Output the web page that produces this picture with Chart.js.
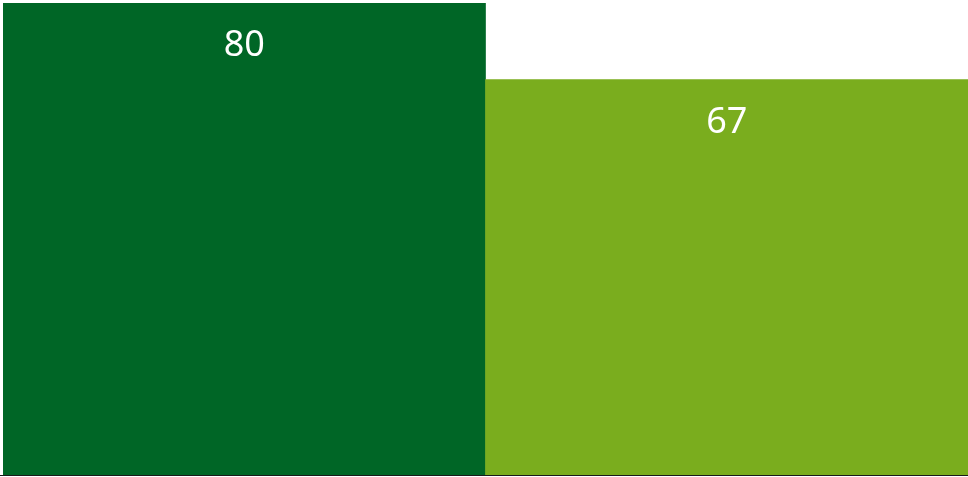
<!DOCTYPE html>
<html>
<head>
<meta charset="utf-8">
<script src="https://cdn.jsdelivr.net/npm/chart.js@4"></script>
<style>
  body { margin: 0; background: #fff; }
  canvas { display: block; }
</style>
</head>
<body>
<canvas id="grafico" width="968" height="477"></canvas>
<script>
// datos
const categorias = ["A", "B"];
const valores = [80, 67];
const colores = ["#006626", "#7aad1e"];

// etiquetas dentro de las barras + linea base
const etiquetasPlugin = {
    id: "etiquetas",
    afterDatasetsDraw(chart) {
        const ctx = chart.ctx;
        const meta = chart.getDatasetMeta(0);
        ctx.save();
        ctx.fillStyle = "#ffffff";
        ctx.font = "36px 'Noto Sans'";
        ctx.textAlign = "center";
        ctx.textBaseline = "middle";
        meta.data.forEach((bar, i) => {
            ctx.fillText(String(valores[i]), bar.x, bar.y + 43);
        });
        // linea base
        const y = chart.chartArea.bottom + 0.5;
        ctx.strokeStyle = "#1a1a1a";
        ctx.lineWidth = 1;
        ctx.beginPath();
        ctx.moveTo(0, y);
        ctx.lineTo(chart.width, y);
        ctx.stroke();
        ctx.restore();
    }
};

new Chart(document.getElementById("grafico"), {
    type: "bar",
    data: {
        labels: categorias,
        datasets: [{
            data: valores,
            backgroundColor: colores,
            borderWidth: 0,
            barPercentage: 1,
            categoryPercentage: 1
        }]
    },
    plugins: [etiquetasPlugin],
    options: {
        responsive: false,
        animation: false,
        layout: { padding: { top: 3, left: 3, right: 0, bottom: 2 } },
        plugins: { legend: { display: false }, tooltip: { enabled: false } },
        scales: {
            x: { display: false },
            y: { display: false, min: 0, max: 80 }
        }
    }
});
</script>
</body>
</html>
